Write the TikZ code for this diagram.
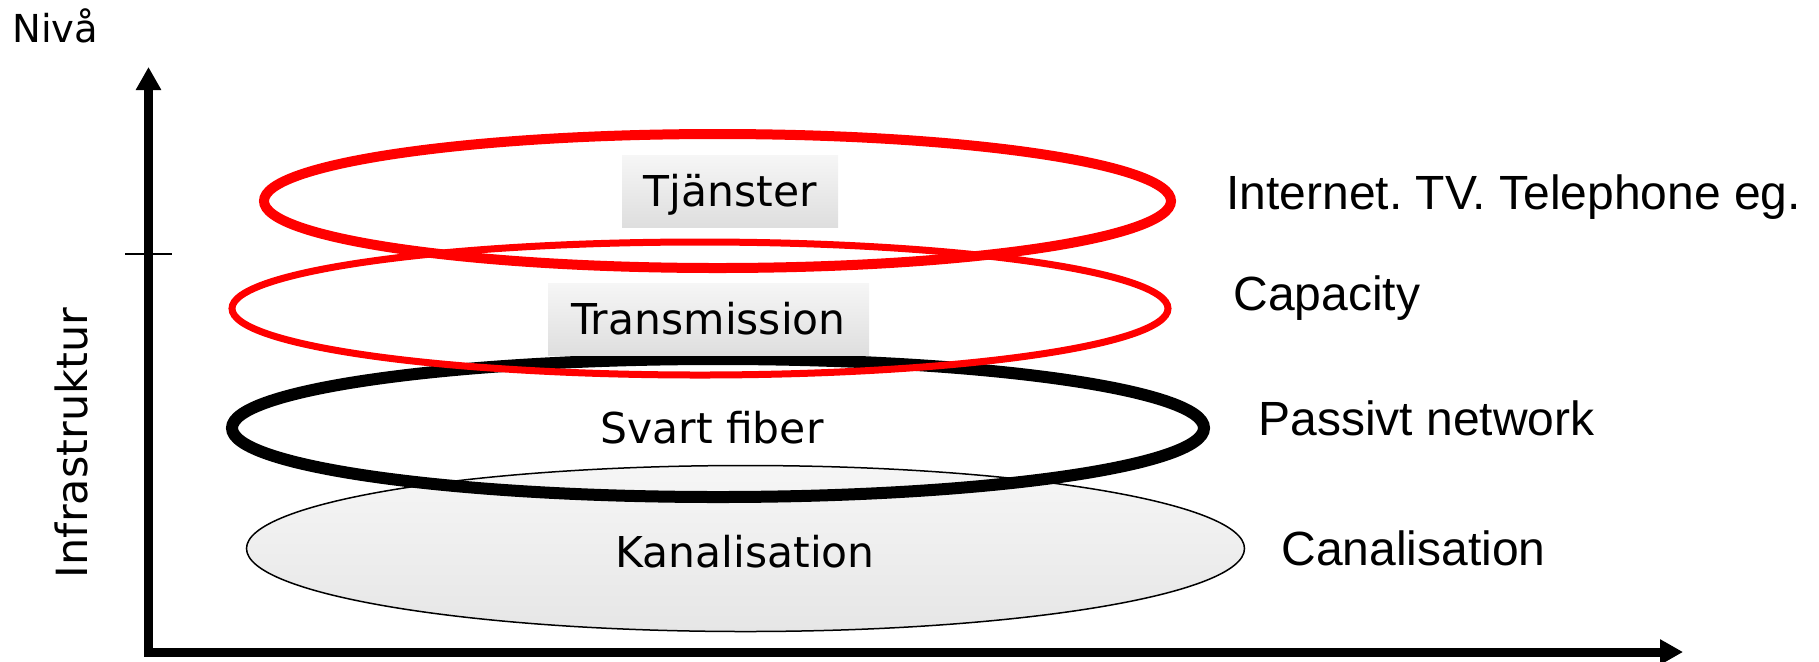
\documentclass[tikz,border=0pt]{standalone}
\usepackage{fontspec}
\setmainfont{DejaVu Sans}
\newfontfamily\arialf{Liberation Sans}
\usetikzlibrary{shapes.geometric,arrows.meta}
\definecolor{boxtop}{RGB}{246,246,246}
\definecolor{boxbot}{RGB}{222,222,222}
\definecolor{kantop}{RGB}{246,246,246}
\definecolor{kanbot}{RGB}{230,230,230}
\frenchspacing
\begin{document}
\begin{tikzpicture}[x=0.5pt,y=-0.5pt,
  ring/.style={ellipse,inner sep=0pt,outer sep=0pt},
  inlbl/.style={font=\fontsize{21.25pt}{24pt}\selectfont,inner sep=0pt,anchor=base},
  rlbl/.style={font=\arialf\fontsize{24pt}{27pt}\selectfont,inner sep=0pt,anchor=base west},
  lvlbox/.style={inner sep=0pt,top color=boxtop,bottom color=boxbot,
     font=\fontsize{21.25pt}{24pt}\selectfont,text height=15.5pt,text depth=0pt,minimum height=36pt},
  axisline/.style={line width=4.5pt,line join=miter,
     arrows={Triangle[length=11.5pt,width=12pt]-Triangle[length=11.5pt,width=12pt]}}
]
\useasboundingbox (0,0) rectangle (1819,661);
% ellipses (bottom to top)
\node[ring,draw=black,line width=0.75pt,top color=kantop,bottom color=kanbot,
      minimum width=499pt,minimum height=83pt] (kan) at (745.5,548.5) {};
\node[ring,draw=black,line width=6pt,minimum width=486pt,minimum height=69pt] (fib) at (718,428) {};
\node[ring,draw=red,line width=3.5pt,minimum width=468pt,minimum height=66.5pt] (tra) at (700,308.5) {};
\node[ring,draw=red,line width=5pt,minimum width=453.5pt,minimum height=67pt] (tja) at (717.5,201) {};
% inner labels
\node[inlbl] (kantxt) at (745,567) {Kanalisation};
\node[inlbl] (fibtxt) at (712,443) {Svart fiber};
\node[lvlbox,minimum width=108pt] (tjabox) at (730,191) {Tjänster};
\node[lvlbox,minimum width=160.5pt] (trabox) at (708.5,319) {Transmission};
% right labels
\node[rlbl] (r1) at (1226,209) {Internet. TV. Telephone eg.};
\node[rlbl] (r2) at (1233,310) {Capacity};
\node[rlbl] (r3) at (1258,435) {Passivt network};
\node[rlbl] (r4) at (1281,565) {Canalisation};
% axes
\coordinate (ytip) at (148.5,67);
\coordinate (orig) at (148.5,652);
\coordinate (xtip) at (1683,652);
\draw[axisline] (ytip) -- (orig) -- (xtip);
\coordinate (tickl) at (125,254);
\coordinate (tickr) at (172,254);
\draw[line width=1pt] (tickl) -- (tickr);
\node[font=\fontsize{19.25pt}{22pt}\selectfont,inner sep=0pt,anchor=base west] (niva) at (12,42) {Nivå};
\node[font=\fontsize{21.5pt}{24pt}\selectfont,inner sep=0pt,anchor=base,rotate=90] (infra) at (87,443) {Infrastruktur};
\end{tikzpicture}
\end{document}
